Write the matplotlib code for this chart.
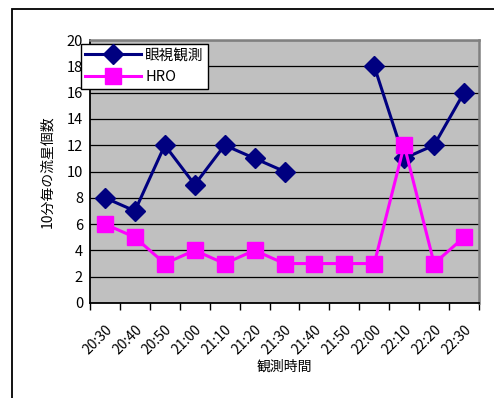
import numpy as np
import matplotlib
matplotlib.use("Agg")
import matplotlib.pyplot as plt
from matplotlib.patches import Rectangle
from matplotlib.transforms import ScaledTranslation

plt.rcParams['font.family'] = ['Noto Sans CJK JP', 'DejaVu Sans']

times = ["20:30", "20:40", "20:50", "21:00", "21:10", "21:20", "21:30",
         "21:40", "21:50", "22:00", "22:10", "22:20", "22:30"]
visual = [8, 7, 12, 9, 12, 11, 10, np.nan, np.nan, 18, 11, 12, 16]
hro = [6, 5, 3, 4, 3, 4, 3, 3, 3, 3, 12, 3, 5]

W, H = 494, 398
fig = plt.figure(figsize=(W / 100, H / 100), dpi=100)
fig.patch.set_facecolor("white")

# outer chart frame
fig.patches.append(Rectangle((12 / W, -0.1), 1.2, 1 - 9 / H + 0.1,
                             transform=fig.transFigure, fill=False,
                             edgecolor="black", linewidth=1.3))

left, right, top, bottom = 90, 479, 40, 303
ax = fig.add_axes([left / W, 1 - bottom / H, (right - left) / W, (bottom - top) / H])
ax.set_facecolor("#C0C0C0")

x = np.arange(len(times))
ax.plot(x, visual, color="#000080", lw=2.2, marker="D", ms=10,
        mfc="#000080", mec="#000080", label="眼視観測", zorder=3)
ax.plot(x, hro, color="#FF00FF", lw=2.2, marker="s", ms=11.5,
        mfc="#FF00FF", mec="#FF00FF", label="HRO", zorder=3)

ax.set_xlim(-0.5, len(times) - 0.5)
ax.set_ylim(0, 20)
ax.set_yticks(range(0, 21, 2))
ax.yaxis.grid(True, color="#000000", lw=0.9)
ax.set_axisbelow(True)

ax.set_xticks(np.arange(-0.5, len(times) - 0.5 + 0.01, 1.0))
ax.set_xticklabels([])
ax.set_xticks(x, minor=True)
ax.set_xticklabels(times, minor=True, rotation=45, ha="right",
                   rotation_mode="anchor", fontsize=10)
shift = ScaledTranslation(-5 / 100, 0, fig.dpi_scale_trans)
for lbl in ax.get_xticklabels(minor=True):
    lbl.set_transform(lbl.get_transform() + shift)
ax.tick_params(axis="x", which="major", direction="out", length=5, width=1, color="black")
ax.tick_params(axis="x", which="minor", length=0, pad=14)
ax.tick_params(axis="y", length=0, labelsize=10.5, pad=5)

for s in ["left", "bottom"]:
    ax.spines[s].set_color("black")
    ax.spines[s].set_linewidth(1.3)
for s in ["top", "right"]:
    ax.spines[s].set_color("#808080")
    ax.spines[s].set_linewidth(1.8)

fig.text(47 / W, 1 - 172 / H, "10分毎の流星個数", rotation=90,
         ha="center", va="center", fontsize=10)
fig.text(284 / W, 1 - 367 / H, "観測時間", ha="center", va="center", fontsize=10)

leg = ax.legend(loc="upper left", bbox_to_anchor=(81 / W, 1 - 44 / H),
                bbox_transform=fig.transFigure, frameon=True, fancybox=False,
                edgecolor="black", framealpha=1, fontsize=10.5,
                handlelength=3.8, borderpad=0.3, labelspacing=0.55,
                handletextpad=0.3, borderaxespad=0)
leg.get_frame().set_linewidth(1.0)

fig.savefig("out.png", dpi=100)
